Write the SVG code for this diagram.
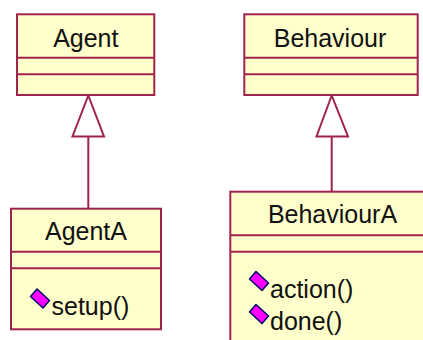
<svg xmlns="http://www.w3.org/2000/svg" width="423" height="340" viewBox="0 0 423 340">
  <style>
    .box { fill: #FFFFCC; stroke: #A0234E; stroke-width: 2; }
    .div { stroke: #A0234E; stroke-width: 2; fill: none; }
    .edge { stroke: #A0234E; stroke-width: 2; fill: none; }
    .head { stroke: #A0234E; stroke-width: 2; fill: #FFFFFF; stroke-linejoin: miter; }
    .name { font-family: "Liberation Sans", Arial, sans-serif; font-size: 25px; fill: #111111; text-anchor: middle; }
    .op { font-family: "Liberation Sans", Arial, sans-serif; font-size: 25px; fill: #111111; }
    .icon { fill: #FF00FF; stroke: #000066; stroke-width: 1.5; stroke-linejoin: round; }
  </style>
  <defs>
    <!-- public operation marker -->
    <polygon id="opIcon" class="icon" points="0,7.5 6.5,0 19,11.5 12.5,19"/>
  </defs>

  <rect width="423" height="340" fill="#FFFFFF"/>

  <!-- generalization connectors -->
  <g id="connectors">
    <line class="edge" x1="88.3" y1="136.5" x2="88.3" y2="209"/>
    <polygon class="head" points="88.3,95.5 72.5,136.5 104,136.5"/>
    <line class="edge" x1="331.7" y1="136.5" x2="331.7" y2="192"/>
    <polygon class="head" points="331.7,95.5 316.5,136.5 348,136.5"/>
  </g>

  <g id="Agent">
    <rect class="box" x="17" y="14.3" width="137.3" height="80.7"/>
    <line class="div" x1="17" y1="57.7" x2="154.3" y2="57.7"/>
    <line class="div" x1="17" y1="74.3" x2="154.3" y2="74.3"/>
    <text class="name" x="85.8" y="47">Agent</text>
  </g>

  <g id="Behaviour">
    <rect class="box" x="244.3" y="14.3" width="173.4" height="80.7"/>
    <line class="div" x1="244.3" y1="57.7" x2="417.7" y2="57.7"/>
    <line class="div" x1="244.3" y1="74.3" x2="417.7" y2="74.3"/>
    <text class="name" x="330" y="47">Behaviour</text>
  </g>

  <g id="AgentA">
    <rect class="box" x="11" y="208.7" width="150" height="120.6"/>
    <line class="div" x1="11" y1="251.7" x2="161" y2="251.7"/>
    <line class="div" x1="11" y1="268.3" x2="161" y2="268.3"/>
    <text class="name" x="86" y="240">AgentA</text>
    <use href="#opIcon" x="30.5" y="289"/>
    <text class="op" x="51.5" y="315">setup()</text>
  </g>

  <g id="BehaviourA">
    <rect class="box" x="230.3" y="191.7" width="220" height="170"/>
    <line class="div" x1="230.3" y1="235.3" x2="450" y2="235.3"/>
    <line class="div" x1="230.3" y1="251.7" x2="450" y2="251.7"/>
    <text class="name" x="332.5" y="223.3">BehaviourA</text>
    <use href="#opIcon" x="249.5" y="271.5"/>
    <text class="op" x="270" y="298.3">action()</text>
    <use href="#opIcon" x="249.5" y="304.5"/>
    <text class="op" x="270" y="330">done()</text>
  </g>
</svg>
